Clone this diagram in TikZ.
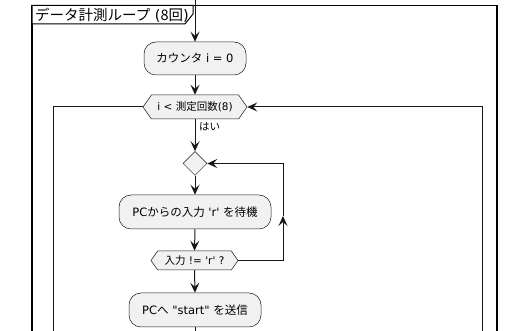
\documentclass[tikz,border=0pt]{standalone}
\usepackage{fontspec}
\setmainfont{DejaVu Sans}[Ligatures=TeXOff]
\newfontfamily\jp{Noto Sans CJK JP}
\usetikzlibrary{arrows.meta,shapes.geometric,shapes.symbols}
\definecolor{boxfill}{HTML}{F1F1F1}
\definecolor{boxline}{HTML}{181818}
\tikzset{
  x=1pt,y=-1pt,
  act/.style={draw=boxline,fill=boxfill,line width=0.5pt,rounded corners=12pt,inner sep=0pt,font=\fontsize{11.5}{14}\selectfont},
  hexa/.style={draw=boxline,fill=boxfill,line width=0.5pt,signal,signal to=west and east,signal pointer angle=110,inner sep=0pt,font=\fontsize{10.5}{13}\selectfont},
  merge/.style={draw=boxline,fill=boxfill,line width=0.5pt,diamond,inner sep=0pt,minimum width=24pt,minimum height=24pt},
  flow/.style={draw=boxline,line width=1pt,-{Stealth[length=10pt,width=9pt,inset=4pt]}},
  plain/.style={draw=boxline,line width=1pt},
  lbl/.style={font=\fontsize{10.5}{13}\selectfont,inner sep=0pt,anchor=west},
}
\begin{document}
\begin{tikzpicture}
\useasboundingbox (0,0) rectangle (507,331);
\fill[white] (0,0) rectangle (507,331);
% frame
\draw[line width=1.5pt,black] (32,340) -- (32,5.5) -- (497,5.5) -- (497,340);
\path[draw=black,line width=1pt,fill=white] (32,5.5) -- (193,5.5) -- (193,14) -- (185,24) -- (32,24) -- cycle;
\node[anchor=west,inner sep=0pt,font=\fontsize{14.5}{16}\selectfont] (title) at (35,15) {{\jp データ計測ループ} ({\jp 8回})};
% nodes
\coordinate (top) at (195,-2);
\node[act,minimum width=102pt,minimum height=33pt] (cnt) at (195,58.5) {{\jp カウンタ} i = 0};
\node[hexa,minimum width=104pt,minimum height=24pt] (loop) at (195,107) {i < {\jp 測定回数}(8)};
\node[merge] (dia) at (195,163.5) {};
\node[act,minimum width=152pt,minimum height=34pt] (wait) at (195,212) {PC{\jp からの入力} 'r' {\jp を待機}};
\node[hexa,minimum width=87pt,minimum height=19pt] (cond) at (194.5,260.5) {{\jp 入力} != 'r' ?};
\node[act,minimum width=132pt,minimum height=34pt] (send) at (195,310) {PC{\jp へ} "start" {\jp を送信}};
\node[lbl] (yes) at (199,126.5) {\jp はい};
% coordinates
\coordinate (bot) at (195,340);
\coordinate (rb) at (283,260.5);
\coordinate (rm) at (283,216);
\coordinate (rt) at (283,163.5);
\coordinate (lt) at (53,107);
\coordinate (lb) at (53,340);
\coordinate (ot) at (482,107);
\coordinate (ob) at (482,340);
% connectors
\draw[flow] (top) -- (cnt.north);
\draw[flow] (cnt.south) -- (loop.north);
\draw[flow] (loop.south) -- (dia.north);
\draw[flow] (dia.south) -- (wait.north);
\draw[flow] (wait.south) -- (cond.north);
\draw[flow] (cond.south) -- (send.north);
\draw[plain] (send.south) -- (bot);
\draw[flow] (cond.east) -- (rb) -- (rm);
\draw[flow] (rm) -- (rt) -- (dia.east);
\draw[plain] (loop.west) -- (lt) -- (lb);
\draw[flow] (ob) -- (ot) -- (loop.east);
\end{tikzpicture}
\end{document}
